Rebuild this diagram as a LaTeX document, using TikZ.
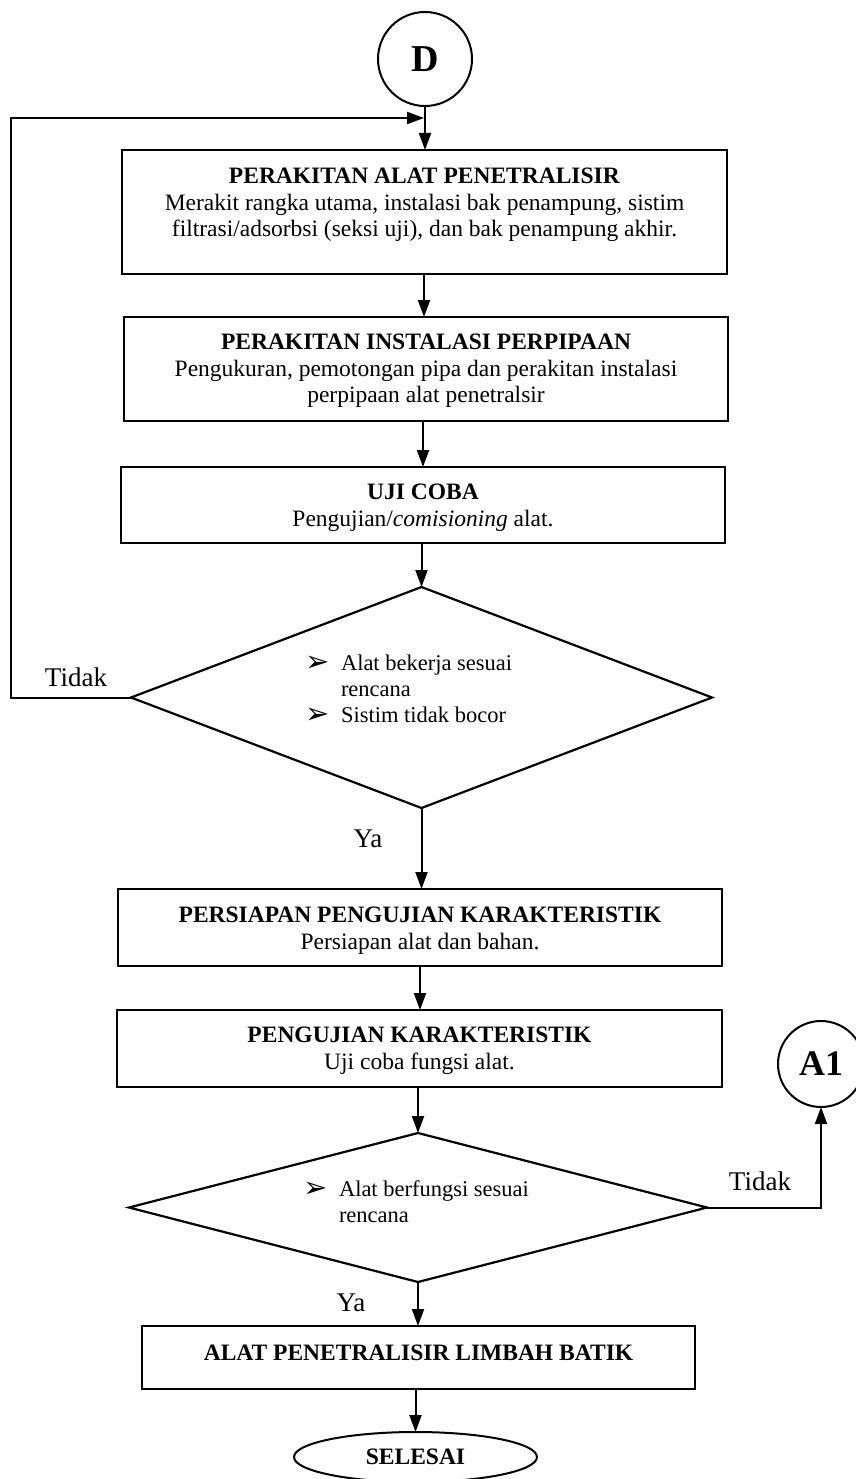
\documentclass[tikz,border=0pt]{standalone}
\usepackage{fontspec}
\setmainfont{Liberation Serif}
\newfontfamily\dvfont{DejaVu Sans}
\usetikzlibrary{shapes.geometric,arrows.meta}
\newcommand\bulmark{\makebox[36pt][l]{\raisebox{-1pt}{\dvfont\fontsize{29}{22}\selectfont ➢}}}
\begin{document}
\begin{tikzpicture}[x=1pt,y=-1pt,
  every node/.style={inner sep=0pt,outer sep=0pt},
  arr/.style={line width=2pt,-{Triangle[length=17pt,width=12pt]}},
  boxnode/.style={draw,line width=2.2pt,rectangle},
  dia/.style={draw,line width=2.2pt,diamond},
  circ/.style={draw,line width=2pt,circle,font=\fontsize{38}{40}\selectfont\bfseries},
  ovalnode/.style={draw,line width=2pt,ellipse},
  txt/.style={align=center,font=\fontsize{23.5}{26.7}\selectfont},
  lbl/.style={font=\fontsize{27}{30}\selectfont},
  dtxt/.style={align=left,font=\fontsize{22.5}{26}\selectfont}]
\useasboundingbox (0,0) rectangle (855,1479);

% shapes
\node[circ,minimum size=94pt] (D) at (425,59) {D};
\node[boxnode,minimum width=605pt,minimum height=124pt] (b1) at (424.5,212) {};
\node[boxnode,minimum width=604pt,minimum height=104pt] (b2) at (426,369) {};
\node[boxnode,minimum width=604pt,minimum height=76pt] (b3) at (423,505) {};
\node[dia,minimum width=581pt,minimum height=221pt] (d1) at (421.5,697.5) {};
\node[boxnode,minimum width=604pt,minimum height=77pt] (b4) at (420,927.5) {};
\node[boxnode,minimum width=605pt,minimum height=77pt] (b5) at (419.5,1048.5) {};
\node[circ,minimum size=86pt,font=\fontsize{36}{38}\selectfont\bfseries] (A1) at (821,1064) {A1};
\node[dia,minimum width=578pt,minimum height=149pt] (d2) at (418,1207.5) {};
\node[boxnode,minimum width=553pt,minimum height=63pt] (b6) at (418.5,1357.5) {};
\node[ovalnode,minimum width=243pt,minimum height=50pt,font=\fontsize{23.5}{26}\selectfont\bfseries] (E) at (415.5,1457) {SELESAI};

% texts
\node[txt] (t1) at (424.5,205) {\textbf{PERAKITAN ALAT PENETRALISIR}\\Merakit rangka utama, instalasi bak penampung, sistim\\filtrasi/adsorbsi (seksi uji), dan bak penampung akhir.};
\node[txt] (t2) at (426,371) {\textbf{PERAKITAN INSTALASI PERPIPAAN}\\Pengukuran, pemotongan pipa dan perakitan instalasi\\perpipaan alat penetralsir};
\node[txt] (t3) at (423,508) {\textbf{UJI COBA}\\Pengujian/\textit{comisioning} alat.};
\node[dtxt,anchor=north west] (t4) at (305,655) {\bulmark Alat bekerja sesuai\\\hspace*{36pt}rencana\\\bulmark Sistim tidak bocor};
\node[txt] (t5) at (420,931) {\textbf{PERSIAPAN PENGUJIAN KARAKTERISTIK}\\Persiapan alat dan bahan.};
\node[txt] (t6) at (419.5,1051) {\textbf{PENGUJIAN KARAKTERISTIK}\\Uji coba fungsi alat.};
\node[dtxt,anchor=north west] (t7) at (303,1181) {\bulmark Alat berfungsi sesuai\\\hspace*{36pt}rencana};
\node[txt] (t8) at (418.5,1353) {\textbf{ALAT PENETRALISIR LIMBAH BATIK}};

% labels
\node[lbl] (l1) at (76,677) {Tidak};
\node[lbl] (l2) at (368,839) {Ya};
\node[lbl] (l3) at (760,1181) {Tidak};
\node[lbl] (l4) at (351,1303) {Ya};

% connectors
\coordinate (fb) at (424,118);
\draw[arr] (D.south) -- (D.south |- b1.north);
\draw[arr] (b1.south -| fb) -- (fb |- b2.north);
\draw[arr] (b2.south -| b3.north) -- (b3.north);
\draw[arr] (b3.south -| d1.north) -- (d1.north);
\draw[arr] (d1.south) -- (d1.south |- b4.north);
\draw[arr] (b4.south) -- (b4.south |- b5.north);
\draw[arr] (b5.south -| d2.north) -- (d2.north);
\draw[arr] (d2.south) -- (d2.south |- b6.north);
\draw[arr] (b6.south -| E.north) -- (E.north);
\draw[arr] (d1.west) -- ++(-120,0) |- (fb);
\draw[arr] (d2.east) -| (A1.south);
\end{tikzpicture}
\end{document}
